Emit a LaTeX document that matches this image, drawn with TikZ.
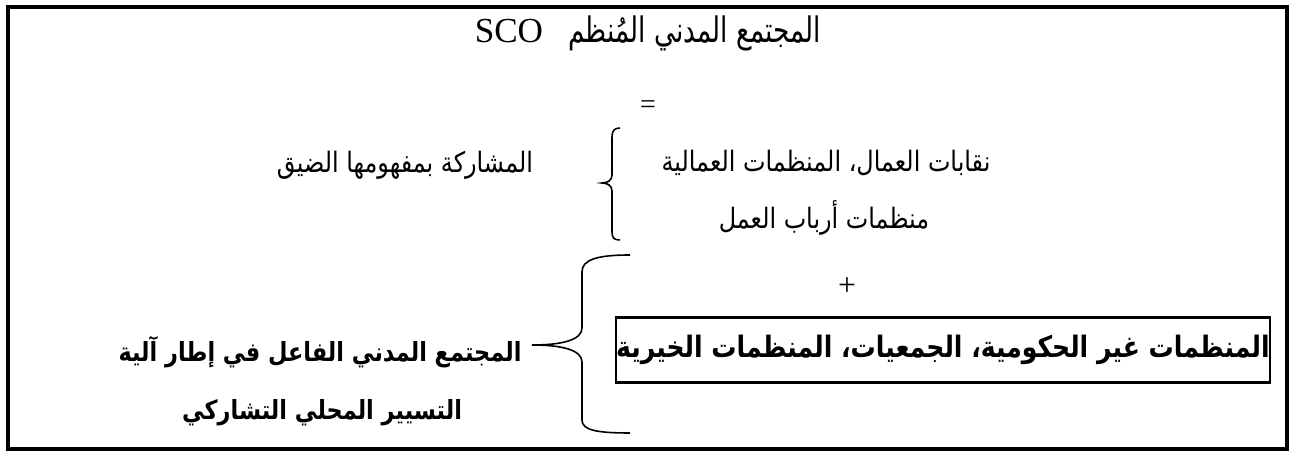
\documentclass[tikz,border=0pt]{standalone}
\usepackage{fontspec}
\setmainfont{Liberation Serif}
\newfontfamily\arabicfont[Script=Arabic,FakeStretch=0.85]{DejaVu Sans}
\newfontfamily\titlefont[Script=Arabic,FakeStretch=0.75]{DejaVu Sans}
\TeXXeTstate=1

\begin{document}
\begin{tikzpicture}[x=0.02cm,y=-0.02cm,line width=0.9pt,
  every node/.style={inner sep=0pt,font=\arabicfont\fontsize{16}{18}\selectfont},
  big/.style={font=\titlefont\fontsize{20}{22}\selectfont},
  bold/.style={font=\arabicfont\bfseries\fontsize{16.8}{18}\selectfont}]
\useasboundingbox (0,0) rectangle (1295,455);
\draw[line width=2.3pt] (8,7) rectangle (1287,449);
\node[big] at(648,33)(t){\beginR المجتمع المدني المُنظم\ \ \ {\rmfamily\fontsize{20}{22}\selectfont\beginL SCO\endL}\endR};
\node[font=\rmfamily\fontsize{16}{18}\selectfont] at(648,107)(eq){=};
\node at(405,165)(m1){\beginR المشاركة بمفهومها الضيق\endR};
\node at(826,163)(n1){\beginR نقابات العمال، المنظمات العمالية\endR};
\node at(824,218)(n2){\beginR منظمات أرباب العمل\endR};
\node[font=\rmfamily\fontsize{18}{20}\selectfont] at(847,287)(plus){+};
\node[bold,draw,line width=1.2pt,minimum width=653*0.02cm,minimum height=65*0.02cm] at(943,350)(ngo){\beginR المنظمات غير الحكومية، الجمعيات، المنظمات الخيرية\endR};
\node[bold,font=\arabicfont\bfseries\fontsize{15}{17}\selectfont] at(320,352)(a1){\beginR المجتمع المدني الفاعل في إطار آلية\endR};
\node[bold,font=\arabicfont\bfseries\fontsize{15}{17}\selectfont] at(322,413)(a2){\beginR التسيير المحلي التشاركي\endR};
% small brace
\draw (620,128) .. controls (614,128) and (612,131) .. (612,137) -- (612,175)
  .. controls (612,180) and (608,183) .. (602,183)
  .. controls (608,183) and (612,186) .. (612,191) -- (612,232)
  .. controls (612,238) and (614,240) .. (620,240);
% large brace
\draw (630,255) .. controls (596,255) and (582,260) .. (582,272) -- (582,328)
  .. controls (582,340) and (562,345) .. (532,345)
  .. controls (562,345) and (582,350) .. (582,362) -- (582,420)
  .. controls (582,430) and (596,433) .. (630,433);
\end{tikzpicture}
\end{document}
